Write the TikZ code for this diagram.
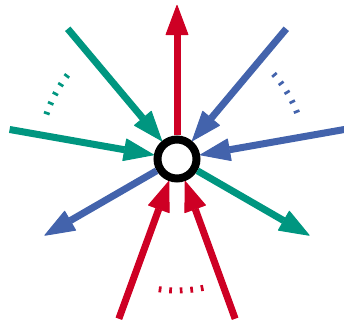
\documentclass[tikz,border=0pt]{standalone}
\usetikzlibrary{arrows.meta}
\definecolor{flowred}{RGB}{206,0,36}
\definecolor{flowgreen}{RGB}{0,150,128}
\definecolor{flowblue}{RGB}{67,99,172}
\begin{document}
\begin{tikzpicture}[
  x=1pt, y=1pt,
  arr/.style={line width=7pt, -{Triangle[length=31pt,width=23pt,line width=1pt,round]}},
  tick/.style={line width=2.7pt},
  hub/.style={circle, draw=black, fill=white, line width=8pt, minimum size=39pt, inner sep=0pt, outer sep=4pt}
]
  \useasboundingbox (-177,-164) rectangle (167,159);

  % === NODO CENTRALE ===
  \node[hub] (hub) at (0,0) {};

  % Estremi dei flussi
  \coordinate (outR) at (90:154);
  \coordinate (inGa) at (130:170);
  \coordinate (inBa) at (50:170);
  \coordinate (inGb) at (170:170);
  \coordinate (inBb) at (10:170);
  \coordinate (outB) at (210:153);
  \coordinate (outG) at (330:153);
  \coordinate (inRa) at (250:170);
  \coordinate (inRb) at (290:170);

  % Flussi entranti
  \draw[arr, flowgreen] (inGa) -- (hub);
  \draw[arr, flowgreen] (inGb) -- (hub);
  \draw[arr, flowblue] (inBa) -- (hub);
  \draw[arr, flowblue] (inBb) -- (hub);
  \draw[arr, flowred] (inRa) -- (hub);
  \draw[arr, flowred] (inRb) -- (hub);

  % Flussi uscenti
  \draw[arr, flowred] (hub) -- (outR);
  \draw[arr, flowblue] (hub) -- (outB);
  \draw[arr, flowgreen] (hub) -- (outG);

  % Archi tratteggiati
  \foreach \a in {143,147.4,151.8,156.2,160.6}
    \draw[tick, flowgreen] (\a:135) -- (\a:141);
  \foreach \a in {21.6,26.4,31.2,36,40.8}
    \draw[tick, flowblue] (\a:125.7) -- (\a:131.7);
  \foreach \a in {262.6,267.2,271.8,276.4,281}
    \draw[tick, flowred] (\a:128.5) -- (\a:134.5);
\end{tikzpicture}
\end{document}
